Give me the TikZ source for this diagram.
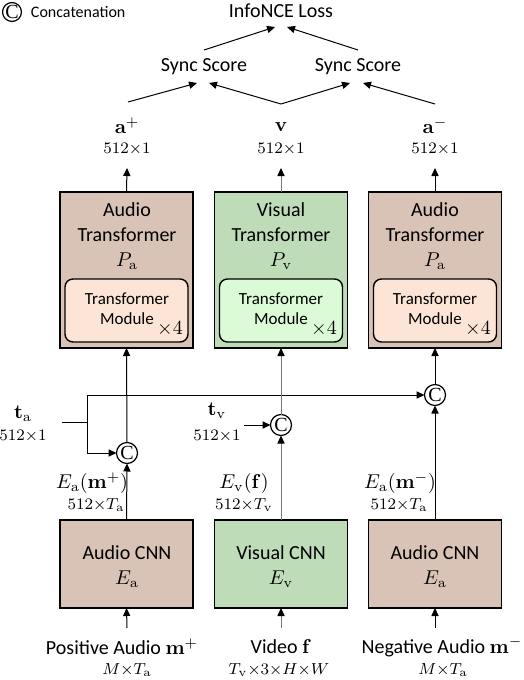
\documentclass[tikz,border=0pt]{standalone}
\usepackage[no-math]{fontspec}
\setmainfont{Carlito}
\newfontfamily\serifC{Liberation Serif}
\usetikzlibrary{arrows.meta,calc}
\definecolor{audbg}{HTML}{D9C3B7}
\definecolor{visbg}{HTML}{BFDCB9}
\definecolor{audin}{HTML}{FCE4D6}
\definecolor{visin}{HTML}{DAFBD6}
\definecolor{midgray}{HTML}{777777}
\begin{document}
\begin{tikzpicture}[x=0.5pt,y=-0.5pt,
  every node/.style={inner sep=0pt,outer sep=0pt},
  bigtxt/.style={font=\fontsize{10}{12.5}\selectfont,align=center},
  smalltxt/.style={font=\fontsize{8.5}{10}\selectfont,align=center},
  dimtxt/.style={font=\fontsize{8}{9.6}\selectfont},
  outerbox/.style={draw=black,line width=0.8pt,minimum width=66.5pt},
  innerbox/.style={draw=black,line width=0.7pt,rounded corners=4pt,minimum width=61.5pt,minimum height=31.5pt},
  concat/.style={circle,draw=black,line width=0.6pt,minimum size=10.5pt,font=\serifC\fontsize{10}{10}\selectfont},
  arr/.style={line width=0.5pt,-{Triangle[length=4pt,width=3.6pt,color=black]}},
  ln/.style={line width=0.5pt},
  garr/.style={arr,draw=midgray},
]
\useasboundingbox (0,0) rectangle (524,680);

% legend
\node[concat,minimum size=9pt] (lg) at (12,12) {C};
\node[dimtxt,anchor=west] (lgt) at (31,12) {Concatenation};

% top
\node[bigtxt] (loss) at (281,11) {InfoNCE Loss};
\node[bigtxt] (ssl) at (204,67) {Sync Score};
\node[bigtxt] (ssr) at (358,67) {Sync Score};

\node[bigtxt] (ap) at (127,126) {$\mathbf{a}^{+}$};
\node[bigtxt] (vv) at (281,127) {$\mathbf{v}$};
\node[bigtxt] (am) at (435,126) {$\mathbf{a}^{-}$};
\node[dimtxt] (apd) at (127,149) {$512{\times}1$};
\node[dimtxt] (vvd) at (281,149) {$512{\times}1$};
\node[dimtxt] (amd) at (435,149) {$512{\times}1$};

% transformers
\node[outerbox,fill=audbg,minimum height=78pt] (atl) at (126.5,270) {};
\node[outerbox,fill=visbg,minimum height=78pt] (vtr) at (281,270) {};
\node[outerbox,fill=audbg,minimum height=78pt] (atr) at (435,270) {};
\node[bigtxt] (atlt) at (127,236) {Audio\\Transformer\\$P_{\mathrm{a}}$};
\node[bigtxt] (vtrt) at (281,236) {Visual\\Transformer\\$P_{\mathrm{v}}$};
\node[bigtxt] (atrt) at (435,236) {Audio\\Transformer\\$P_{\mathrm{a}}$};
\node[innerbox,fill=audin] (atlm) at (126.5,310.5) {};
\node[innerbox,fill=visin] (vtrm) at (281,310.5) {};
\node[innerbox,fill=audin] (atrm) at (435,310.5) {};
\node[smalltxt] (atlmt) at (127,309) {Transformer\\Module};
\node[smalltxt] (vtrmt) at (281,309) {Transformer\\Module};
\node[smalltxt] (atrmt) at (435,309) {Transformer\\Module};
\node[bigtxt] (atlx) at (170,329) {$\times4$};
\node[bigtxt] (vtrx) at (324,329) {$\times4$};
\node[bigtxt] (atrx) at (478,329) {$\times4$};

% CNNs
\node[outerbox,fill=audbg,minimum height=44pt] (acl) at (126.5,564) {};
\node[outerbox,fill=visbg,minimum height=44pt] (vcn) at (281,564) {};
\node[outerbox,fill=audbg,minimum height=44pt] (acr) at (435,564) {};
\node[bigtxt] (aclt) at (127,567) {Audio CNN\\$E_{\mathrm{a}}$};
\node[bigtxt] (vcnt) at (281,567) {Visual CNN\\$E_{\mathrm{v}}$};
\node[bigtxt] (acrt) at (435,567) {Audio CNN\\$E_{\mathrm{a}}$};

% concatenations
\node[concat] (cl) at (127,453) {C};
\node[concat] (cm) at (281,425) {C};
\node[concat] (cr) at (435,395) {C};

% side inputs
\node[bigtxt] (ta) at (23,414) {$\mathbf{t}_{\mathrm{a}}$};
\node[dimtxt] (tad) at (23,436) {$512{\times}1$};
\node[bigtxt] (tv) at (217,411) {$\mathbf{t}_{\mathrm{v}}$};
\node[dimtxt] (tvd) at (217,436) {$512{\times}1$};

% feature labels
\node[bigtxt] (fl) at (92,483) {$E_{\mathrm{a}}(\mathbf{m}^{+})$};
\node[dimtxt] (fld) at (96,505) {$512{\times}T_{\mathrm{a}}$};
\node[bigtxt] (fm) at (244,483) {$E_{\mathrm{v}}(\mathbf{f})$};
\node[dimtxt] (fmd) at (244,505) {$512{\times}T_{\mathrm{v}}$};
\node[bigtxt] (fr) at (400,483) {$E_{\mathrm{a}}(\mathbf{m}^{-})$};
\node[dimtxt] (frd) at (399,505) {$512{\times}T_{\mathrm{a}}$};

% inputs
\node[bigtxt] (inl) at (122,647) {Positive Audio $\mathbf{m}^{+}$};
\node[dimtxt] (inld) at (127,670) {$M{\times}T_{\mathrm{a}}$};
\node[bigtxt] (inm) at (281,647) {Video $\mathbf{f}$};
\node[dimtxt] (inmd) at (279,670) {$T_{\mathrm{v}}{\times}3{\times}H{\times}W$};
\node[bigtxt] (inr) at (442,647) {Negative Audio $\mathbf{m}^{-}$};
\node[dimtxt] (inrd) at (443,670) {$M{\times}T_{\mathrm{a}}$};

% coordinates
\coordinate (ilo) at (127,628);
\coordinate (imo) at (281,628);
\coordinate (iro) at (435,628);
\coordinate (apin) at (127,168);
\coordinate (vvin) at (281,168);
\coordinate (amin) at (435,168);
\coordinate (apo) at (128,102);
\coordinate (vvo) at (281,104);
\coordinate (amo) at (435,104);
\coordinate (tas) at (62,422);
\coordinate (taj) at (87,422);
\coordinate (tvs) at (244,425);

% connectors
\draw[arr] (ilo) -- (acl.south);
\draw[garr] (imo) -- (vcn.south);
\draw[arr] (iro) -- (acr.south);

\draw[ln] (tas) -- (taj);
\draw[arr] (taj) |- (cr.west);
\draw[arr] (taj) |- (cl.west);
\draw[arr] (tvs) -- (cm.west);

\draw[arr] (acl.north) -- (cl.south);
\draw[garr] (vcn.north) -- (cm.south);
\draw[arr] (acr.north) -- (cr.south);
\draw[arr] (cl.north) -- (atl.south);
\draw[garr] (cm.north) -- (vtr.south);
\draw[arr] (cr.north) -- (atr.south);

\draw[arr] (atl.north) -- (apin);
\draw[garr] (vtr.north) -- (vvin);
\draw[arr] (atr.north) -- (amin);

\draw[arr] (apo) -- ($(ssl)+(-7,16)$);
\draw[arr] (vvo) -- ($(ssl)+(5,16)$);
\draw[arr] (vvo) -- ($(ssr)+(-8,16)$);
\draw[arr] (amo) -- ($(ssr)+(5,16)$);
\draw[arr] ($(ssl)+(0,-17)$) -- ($(loss)+(-6,16)$);
\draw[arr] ($(ssr)+(0,-17)$) -- ($(loss)+(6,16)$);
\end{tikzpicture}
\end{document}
